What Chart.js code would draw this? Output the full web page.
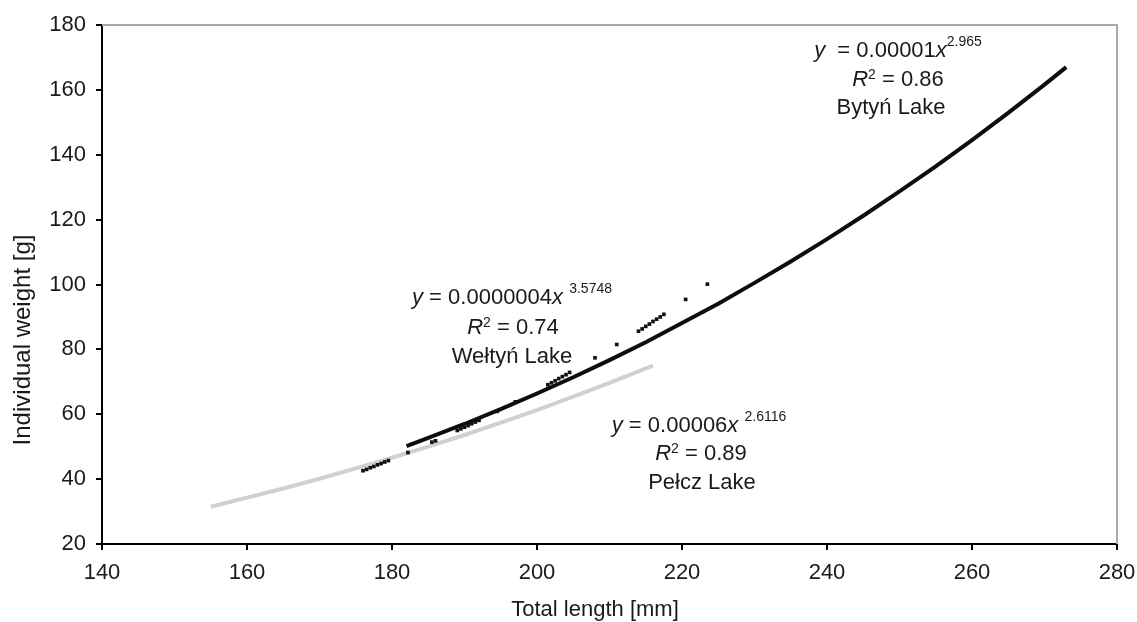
<!DOCTYPE html>
<html><head><meta charset="utf-8">
<script src="https://cdn.jsdelivr.net/npm/chart.js@4/dist/chart.umd.min.js"></script>
<style>html,body{margin:0;padding:0;background:#fff}canvas{display:block}</style>
</head><body>
<canvas id="c" width="1137" height="622"></canvas>
<script>
// ---- data ----
const bytynX = [182, 185, 190, 195, 200, 205, 210, 215, 220, 225, 230, 235, 240, 245, 250, 255, 260, 265, 270, 273];
const bytynY = [50.2, 52.7, 57.0, 61.6, 66.4, 71.4, 76.7, 82.2, 88.1, 94.1, 100.5, 107.1, 114.0, 121.2, 128.7, 136.4, 144.5, 152.9, 161.6, 167.0];

const pelczX = [155, 160, 165, 170, 175, 180, 185, 190, 195, 200, 205, 210, 216];
const pelczY = [31.5, 34.3, 37.1, 40.1, 43.3, 46.6, 50.0, 53.6, 57.4, 61.3, 65.4, 69.7, 75.0];

const weltynX = [176, 176.5, 177, 177.5, 178, 178.5, 179, 179.5, 182.2, 185.5, 186, 189, 189.5, 190, 190.5, 191, 191.5, 192, 194.5, 197, 201.5, 202, 202.5, 203, 203.5, 204, 204.5, 208, 211, 214, 214.5, 215, 215.5, 216, 216.5, 217, 217.5, 220.5, 223.5];
const weltynY = [42.6, 43.0, 43.5, 43.9, 44.4, 44.8, 45.3, 45.7, 48.2, 51.4, 51.8, 55.0, 55.5, 56.0, 56.5, 57.1, 57.6, 58.1, 60.9, 63.8, 69.1, 69.7, 70.3, 71.0, 71.6, 72.2, 72.9, 77.4, 81.5, 85.6, 86.3, 87.1, 87.8, 88.6, 89.3, 90.0, 90.8, 95.4, 100.1];

const xTicks = [140, 160, 180, 200, 220, 240, 260, 280];
const yTicks = [20, 40, 60, 80, 100, 120, 140, 160, 180];

const xTitle = 'Total length [mm]';
const yTitle = 'Individual weight [g]';

// equation labels: segments {t, it: italic, sup: raise}
const bytynLabel = [
  [{t:'y', it:1}, {t:'  = 0.00001'}, {t:'x', it:1}, {t:'2.965', sup:11}],
  [{t:'R', it:1}, {t:'2', sup:7}, {t:' = 0.86'}],
  [{t:'Bytyń Lake'}]
];
const weltynLabel = [
  [{t:'y', it:1}, {t:' = 0.0000004'}, {t:'x', it:1}, {t:' '}, {t:'3.5748', sup:11}],
  [{t:'R', it:1}, {t:'2', sup:7}, {t:' = 0.74'}],
  [{t:'Wełtyń Lake'}]
];
const pelczLabel = [
  [{t:'y', it:1}, {t:' = 0.00006'}, {t:'x', it:1}, {t:' '}, {t:'2.6116', sup:11}],
  [{t:'R', it:1}, {t:'2', sup:7}, {t:' = 0.89'}],
  [{t:'Pełcz Lake'}]
];

const FF = '"Liberation Sans", Arial, Helvetica, sans-serif';
const TXT = '#1a1a1a';

function pts(xs, ys){ return xs.map((x,i)=>({x:x, y:ys[i]})); }

// layout of the text blocks (pixels)
const notes = [
  {lines: bytynLabel, cx: [898, 898, 891], base: [57, 86, 114]},
  {lines: weltynLabel, cx: [512, 513, 512], base: [304, 334, 363]},
  {lines: pelczLabel, cx: [699, 701, 702], base: [432, 460, 489]}
];

function drawRich(ctx, segs, cx, base){
  const fontOf = s => (s.it ? 'italic ' : '') + (s.sup ? '14px ' : '22px ') + FF;
  let w = 0;
  segs.forEach(s => { ctx.font = fontOf(s); w += ctx.measureText(s.t).width; });
  let x = cx - w/2;
  ctx.textAlign = 'left';
  ctx.textBaseline = 'alphabetic';
  segs.forEach(s => {
    ctx.font = fontOf(s);
    ctx.fillText(s.t, x, base - (s.sup || 0));
    x += ctx.measureText(s.t).width;
  });
}

const decor = {
  id: 'decor',
  afterDraw(chart){
    const ctx = chart.ctx, a = chart.chartArea;
    ctx.save();
    // gray top and right frame
    ctx.strokeStyle = '#a8a8a8';
    ctx.lineWidth = 2;
    ctx.beginPath();
    ctx.moveTo(a.left, a.top); ctx.lineTo(a.right, a.top); ctx.lineTo(a.right, a.bottom);
    ctx.stroke();
    ctx.fillStyle = TXT;
    notes.forEach(n => n.lines.forEach((segs, i) => drawRich(ctx, segs, n.cx[i], n.base[i])));
    // axis titles
    ctx.font = '22px ' + FF;
    ctx.textAlign = 'center';
    ctx.textBaseline = 'alphabetic';
    ctx.fillText(xTitle, 595, 616);
    ctx.font = '24px ' + FF;
    ctx.translate(30, 340);
    ctx.rotate(-Math.PI/2);
    ctx.fillText(yTitle, 0, 0);
    ctx.restore();
  }
};

new Chart(document.getElementById('c'), {
  type: 'scatter',
  data: {
    datasets: [
      {label:'Pełcz Lake', data: pts(pelczX, pelczY), showLine:true, borderColor:'#d0d0d0', borderWidth:4, pointRadius:0, order:3},
      {label:'Bytyń Lake', data: pts(bytynX, bytynY), showLine:true, borderColor:'#0d0d0d', borderWidth:4, pointRadius:0, order:2},
      {label:'Wełtyń Lake', data: pts(weltynX, weltynY), showLine:false, pointStyle:'rect', pointRadius:2.6, backgroundColor:'#111', borderColor:'#111', borderWidth:0, order:1}
    ]
  },
  options: {
    responsive:false, devicePixelRatio:1, animation:false,
    layout:{padding:{top:25, right:20, left:0, bottom:0}},
    plugins:{legend:{display:false}, tooltip:{enabled:false}},
    scales:{
      x:{
        type:'linear', min:140, max:280,
        afterBuildTicks: s => { s.ticks = xTicks.map(v => ({value:v})); },
        afterFit: s => { s.height = 78; s.paddingRight = 0; s.paddingLeft = 0; },
        grid:{drawOnChartArea:false, drawTicks:true, tickLength:6, color:'#000', lineWidth:2},
        border:{display:true, color:'#000', width:2},
        ticks:{font:{family:FF, size:22}, color:TXT, padding:10, maxRotation:0}
      },
      y:{
        type:'linear', min:20, max:180,
        afterBuildTicks: s => { s.ticks = yTicks.map(v => ({value:v})); },
        afterFit: s => { s.width = 102; s.paddingTop = 0; s.paddingBottom = 0; },
        grid:{drawOnChartArea:false, drawTicks:true, tickLength:6, color:'#000', lineWidth:2},
        border:{display:true, color:'#000', width:2},
        ticks:{font:{family:FF, size:22}, color:TXT, padding:10}
      }
    }
  },
  plugins:[decor]
});
</script>
</body></html>
